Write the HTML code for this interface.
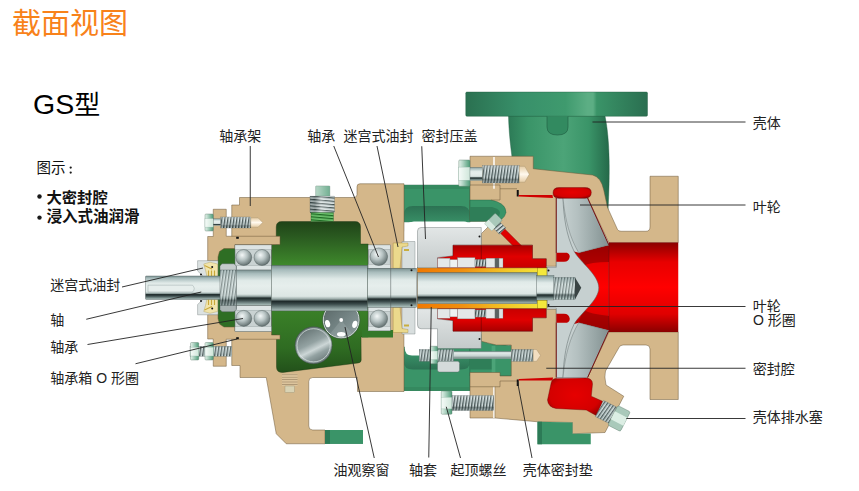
<!DOCTYPE html>
<html><head><meta charset="utf-8"><title>GS</title><style>html,body{margin:0;padding:0;background:#fff;font-family:"Liberation Sans",sans-serif;}svg{display:block}</style></head><body><svg width="859" height="491" viewBox="0 0 859 491">
<defs>
<linearGradient id="metal" x1="0" y1="0" x2="0" y2="1">
<stop offset="0" stop-color="#7A9090"/><stop offset="0.1" stop-color="#A8BCBC"/><stop offset="0.3" stop-color="#E0EAE8"/>
<stop offset="0.45" stop-color="#E6EEEC"/><stop offset="0.68" stop-color="#DCE6E4"/><stop offset="0.74" stop-color="#9AAAA8"/>
<stop offset="0.79" stop-color="#1E2A2A"/><stop offset="0.85" stop-color="#3A4A4A"/><stop offset="0.93" stop-color="#7A8E8C"/><stop offset="1" stop-color="#B0C4C0"/>
</linearGradient>
<linearGradient id="metal2" x1="0" y1="0" x2="0" y2="1">
<stop offset="0" stop-color="#8A9C9C"/><stop offset="0.2" stop-color="#E4ECEA"/><stop offset="0.6" stop-color="#C8D4D2"/>
<stop offset="0.85" stop-color="#8C9C9A"/><stop offset="1" stop-color="#B4C4C0"/>
</linearGradient>
<linearGradient id="sumpT" x1="0" y1="221" x2="0" y2="266" gradientUnits="userSpaceOnUse">
<stop offset="0" stop-color="#1F4218"/><stop offset="0.35" stop-color="#2A5A20"/><stop offset="1" stop-color="#3F8A2C"/>
</linearGradient>
<linearGradient id="sumpB" x1="0" y1="310" x2="0" y2="373" gradientUnits="userSpaceOnUse">
<stop offset="0" stop-color="#3A8028"/><stop offset="0.6" stop-color="#2F6C22"/><stop offset="1" stop-color="#22501A"/>
</linearGradient>
<linearGradient id="redV" x1="0" y1="242.5" x2="0" y2="332" gradientUnits="userSpaceOnUse">
<stop offset="0" stop-color="#8A0000"/><stop offset="0.22" stop-color="#E80000"/><stop offset="0.5" stop-color="#FF0000"/><stop offset="0.8" stop-color="#E00000"/><stop offset="1" stop-color="#8A0000"/>
</linearGradient>
<linearGradient id="redCh" x1="0" y1="0" x2="0" y2="1">
<stop offset="0" stop-color="#A80000"/><stop offset="0.5" stop-color="#E00000"/><stop offset="1" stop-color="#C80000"/>
</linearGradient>
<linearGradient id="redChB" x1="0" y1="1" x2="0" y2="0">
<stop offset="0" stop-color="#A80000"/><stop offset="0.5" stop-color="#E00000"/><stop offset="1" stop-color="#C80000"/>
</linearGradient>
<radialGradient id="redBlob" cx="0.5" cy="0.45" r="0.65">
<stop offset="0" stop-color="#E60000"/><stop offset="0.7" stop-color="#D40000"/><stop offset="1" stop-color="#8E0000"/>
</radialGradient>
<linearGradient id="flange" x1="465" y1="0" x2="648" y2="0" gradientUnits="userSpaceOnUse">
<stop offset="0" stop-color="#2A7050"/><stop offset="0.3" stop-color="#38906A"/><stop offset="0.55" stop-color="#3F9A6E"/><stop offset="0.67" stop-color="#5CAE84"/><stop offset="0.7" stop-color="#5CAE84"/><stop offset="0.72" stop-color="#3A9468"/><stop offset="1" stop-color="#2A6E50"/>
</linearGradient>
<linearGradient id="neck" x1="508" y1="0" x2="609" y2="0" gradientUnits="userSpaceOnUse">
<stop offset="0" stop-color="#2C7A56"/><stop offset="0.2" stop-color="#3A9468"/><stop offset="0.55" stop-color="#4CA478"/><stop offset="0.8" stop-color="#3A9468"/><stop offset="1" stop-color="#256A4A"/>
</linearGradient>
<linearGradient id="adT" x1="0" y1="206" x2="0" y2="222" gradientUnits="userSpaceOnUse">
<stop offset="0" stop-color="#2C7253"/><stop offset="1" stop-color="#388E66"/>
</linearGradient>
<linearGradient id="adB" x1="0" y1="355" x2="0" y2="369.5" gradientUnits="userSpaceOnUse">
<stop offset="0" stop-color="#388E66"/><stop offset="1" stop-color="#2C7253"/>
</linearGradient>
<radialGradient id="ball" cx="0.4" cy="0.35" r="0.7">
<stop offset="0" stop-color="#F4F8F8"/><stop offset="0.45" stop-color="#B8C4C4"/><stop offset="1" stop-color="#5A6868"/>
</radialGradient>
<linearGradient id="plug" x1="0" y1="0" x2="1" y2="1">
<stop offset="0" stop-color="#6A7878"/><stop offset="0.4" stop-color="#93A0A0"/><stop offset="0.6" stop-color="#C8D2D2"/><stop offset="0.75" stop-color="#8E9A9A"/><stop offset="1" stop-color="#606C6C"/>
</linearGradient>
<linearGradient id="sleeve" x1="417" y1="0" x2="547" y2="0" gradientUnits="userSpaceOnUse">
<stop offset="0" stop-color="#F07800"/><stop offset="0.35" stop-color="#F09010"/><stop offset="0.7" stop-color="#F2C828"/><stop offset="1" stop-color="#F4E83C"/>
</linearGradient>
<linearGradient id="gland" x1="0" y1="0" x2="0" y2="1">
<stop offset="0" stop-color="#E2E6E6"/><stop offset="1" stop-color="#C4CACA"/>
</linearGradient>
<linearGradient id="vaneT" x1="560" y1="0" x2="610" y2="0" gradientUnits="userSpaceOnUse">
<stop offset="0" stop-color="#C8D2D2"/><stop offset="0.35" stop-color="#B4C0C0"/><stop offset="0.7" stop-color="#98A6A6"/><stop offset="1" stop-color="#808E8E"/>
</linearGradient>
<pattern id="thr" width="3" height="40" patternUnits="userSpaceOnUse" patternTransform="skewX(-8)">
<rect width="3" height="40" fill="#D2DEDE"/><rect x="0" width="1.15" height="40" fill="#3C4A4A"/><rect x="1.15" width="0.6" height="40" fill="#869696"/>
</pattern>
<linearGradient id="hexF" x1="0" y1="0" x2="1" y2="0"><stop offset="0" stop-color="#E4F2EA"/><stop offset="0.35" stop-color="#B4D6C6"/><stop offset="1" stop-color="#4E9C78"/></linearGradient>
<linearGradient id="hexM" x1="0" y1="0" x2="1" y2="0"><stop offset="0" stop-color="#F6FBF8"/><stop offset="1" stop-color="#CFE6DA"/></linearGradient>
<pattern id="thrG" width="2" height="4" patternUnits="userSpaceOnUse">
<rect width="2" height="4" fill="#7CC07C"/><rect x="0" width="0.9" height="4" fill="#2C6A2C"/>
</pattern>
<pattern id="thrH" width="60" height="3.3" patternUnits="userSpaceOnUse" patternTransform="skewY(5)">
<rect width="60" height="3.3" fill="#D2DCDC"/><rect y="0" width="60" height="1.1" fill="#3C4A4A"/><rect y="1.1" width="60" height="0.6" fill="#869696"/>
</pattern>
<pattern id="thrHG" width="60" height="3" patternUnits="userSpaceOnUse" patternTransform="skewY(5)">
<rect width="60" height="3" fill="#6FC46F"/><rect y="0" width="60" height="1.3" fill="#1E6A24"/>
</pattern>
<linearGradient id="thrShadeH" x1="0" y1="0" x2="1" y2="0"><stop offset="0" stop-color="#1E2A2A" stop-opacity="0.25"/><stop offset="0.2" stop-color="#1E2A2A" stop-opacity="0.3"/><stop offset="0.45" stop-color="#fff" stop-opacity="0.3"/><stop offset="1" stop-color="#fff" stop-opacity="0"/></linearGradient>
<pattern id="thrT" width="4" height="2.4" patternUnits="userSpaceOnUse">
<rect width="4" height="2.4" fill="#DCC49C"/><rect y="0" width="4" height="0.8" fill="#A89270"/>
</pattern>
<linearGradient id="tip" x1="0" y1="0" x2="0" y2="1"><stop offset="0" stop-color="#E6CDA6"/><stop offset="0.5" stop-color="#FFF9EE"/><stop offset="1" stop-color="#E6CDA6"/></linearGradient>
<linearGradient id="thrShade" x1="0" y1="0" x2="0" y2="1"><stop offset="0" stop-color="#fff" stop-opacity="0.25"/><stop offset="0.55" stop-color="#fff" stop-opacity="0"/><stop offset="0.8" stop-color="#1E2A2A" stop-opacity="0.35"/><stop offset="1" stop-color="#1E2A2A" stop-opacity="0.1"/></linearGradient>
<linearGradient id="sg" x1="0" y1="0" x2="1" y2="1"><stop offset="0" stop-color="#566464"/><stop offset="0.5" stop-color="#728282"/><stop offset="1" stop-color="#93A2A2"/></linearGradient>
<linearGradient id="plug2" x1="0.2" y1="0" x2="0.7" y2="1"><stop offset="0" stop-color="#5E6C6C"/><stop offset="0.45" stop-color="#93A2A2"/><stop offset="0.62" stop-color="#CCD6D6"/><stop offset="0.75" stop-color="#93A2A2"/><stop offset="1" stop-color="#667474"/></linearGradient>
</defs>
<path d="M508.5,116 C509,135 511,150 514,172 L608,210 C610,175 610,140 605,116 Z" fill="url(#neck)" stroke="#1F5A40" stroke-width="0.4" />
<rect x="465.75" y="92" width="181.75" height="24.25" fill="url(#flange)" rx="1.2" stroke="#1F5A40" stroke-width="0.4" />
<path d="M547,116.5 L547,127 Q547,135 557.5,135 Q568,135 568,127 L568,116.5" fill="#328A60" stroke="#1F5A40" stroke-width="0.6" />
<rect x="403.75" y="185" width="66.25" height="37" fill="#3A9468" stroke="#1F5A40" stroke-width="0.4" />
<rect x="403.75" y="185" width="66.25" height="4" fill="#35895F" />
<path d="M403.75,215 Q403.75,206 413,206 L461,206 Q470,206 470,215 L470,222 L403.75,222Z" fill="url(#adT)" />
<rect x="403.75" y="347" width="66.25" height="43.8" fill="#3A9468" stroke="#1F5A40" stroke-width="0.4" />
<rect x="403.75" y="387" width="66.25" height="3.8" fill="#35895F" />
<path d="M403.75,355 L470,355 L470,362 Q470,369.5 461,369.5 L413,369.5 Q403.75,369.5 403.75,362Z" fill="url(#adB)" />
<path d="M470,344 L481,334 L487.8,343.3 L512.2,345.6 L512.2,376 L470,376Z" fill="#3A9468" stroke="#1F5A40" stroke-width="0.4" />
<rect x="491.6" y="346" width="3.8" height="29" fill="#4CA478" />
<rect x="470" y="355" width="21.6" height="14.5" fill="#2F7E58" />
<path d="M231.75,205 L239.5,205 L239.5,197.5 L354,197.5 Q357,197.5 357,194.5 L357,186.75 Q357,183.75 360,183.75 L404,183.75 L404,391.5 L357.5,391.5 L357.5,377.5 L312.75,377.5 Q308.75,377.5 308.75,381.5 L308.75,426 Q308.75,430 312.75,430 L325,430 L325,443.75 L286.25,443.75 L276.25,433.75 L266.25,377.5 L240,377.5 L240,365.5 L231.75,365.5 Z" fill="#D4B78A" stroke="#6b5636" stroke-width="0.5" />
<path d="M325,430 L361,430 Q363,430 363,432 L363,443.75 L325,443.75Z" fill="url(#flange)" />
<rect x="325" y="430" width="38" height="13.75" fill="#3A9468" />
<rect x="325" y="430" width="5" height="13.75" fill="#2C7A56" />
<path d="M404.8,232 Q404.8,221.5 414,221.5 L464,221.5 Q468.75,221.5 468.75,226 L468.75,348 L437,348 L437,355.5 L412,355.5 Q404.8,355.5 404.8,348 Z" fill="#fff" />
<path d="M276.25,227 Q276.25,221.5 281.75,221.5 L355,221.5 Q360.5,221.5 360.5,227 L360.5,244 L368.2,244 L368.2,288 L271.25,288 L271.25,244.5 L276.25,244.5Z" fill="url(#sumpT)" stroke="#16300F" stroke-width="0.4" />
<path d="M271.25,287 L368.2,287 L368.2,337 L361,337 L361.2,360 Q361.2,362.7 358,363 L283,372.4 Q276.5,373 276.5,367 L276.5,335 L271.25,335Z" fill="url(#sumpB)" stroke="#16300F" stroke-width="0.4" />
<rect x="362" y="330" width="31" height="7.5" fill="#34782A" />
<circle cx="341.2" cy="320" r="18" fill="url(#sg)" stroke="#E4EAEA" stroke-width="1"/>
<circle cx="341.2" cy="320" r="18.7" fill="none" stroke="#3A4646" stroke-width="0.5"/>
<path d="M341.2,320 L330,334 Q341,340 352.4,334Z" fill="#A8B6B6" opacity="0.3"/>
<ellipse cx="327.6" cy="323.6" rx="2.5" ry="3.7" fill="#fff" transform="rotate(-15 327.6 323.6)"/>
<ellipse cx="354.8" cy="324.4" rx="2.5" ry="3.7" fill="#fff" transform="rotate(15 354.8 324.4)"/>
<ellipse cx="341.2" cy="334.3" rx="4.2" ry="2.3" fill="#fff" transform="rotate(0 341.2 334.3)"/>
<circle cx="341.2" cy="320" r="1.9" fill="#fff"/>
<circle cx="313.6" cy="345.3" r="18.5" fill="url(#plug2)" stroke="#3C4848" stroke-width="0.5"/>
<circle cx="313.6" cy="345.3" r="16.6" fill="none" stroke="#E0E8E8" stroke-width="0.7"/>
<rect x="217" y="247" width="19" height="82" fill="#2E6E24" />
<path d="M213.25,209.25 L226.25,209.25 L226.25,236.25 L280,236.25 L280,244.5 L235,244.5 L235,248.5 L224,248.5 L219.5,251.5 L218,257 L218,261 L207.7,261 L207.7,236.5 L213.25,236.5Z" fill="#D4B78A" stroke="#6b5636" stroke-width="0.5" />
<path d="M213.25,366.25 L226.25,366.25 L226.25,339.25 L280,339.25 L280,335 L271.5,335 L271.5,331 L235,331 L235,327 L224,327 L219.5,324 L218,318.5 L218,314.5 L207.7,314.5 L207.7,339 L213.25,339Z" fill="#D4B78A" stroke="#6b5636" stroke-width="0.5" />
<path d="M197.6,260.7 L218,260.7 L218,276.5 L203.5,276.5 L197.6,271Z" fill="#DCE2E2" stroke="#707878" stroke-width="0.4" />
<path d="M203.75,264 L210,262.2 L217.5,264 L217.5,276.5 L207,276.5 L205.5,270Z" fill="#F1E4AC" stroke="#9a8030" stroke-width="0.3" />
<line x1="204.5" y1="265.5" x2="212" y2="269" stroke="#C9A83A" stroke-width="1.1"/>
<line x1="208.5" y1="270.5" x2="208.5" y2="276" stroke="#C9A83A" stroke-width="1.1"/>
<line x1="211.5" y1="270.5" x2="211.5" y2="276" stroke="#C9A83A" stroke-width="1.1"/>
<line x1="214.5" y1="270.5" x2="214.5" y2="276" stroke="#C9A83A" stroke-width="1.1"/>
<circle cx="212.2" cy="267.1" r="1" fill="#111"/>
<circle cx="201" cy="274.4" r="1" fill="#111"/>
<path d="M197.6,314.8 L218,314.8 L218,299 L203.5,299 L197.6,304.5Z" fill="#DCE2E2" stroke="#707878" stroke-width="0.4" />
<path d="M203.75,311.5 L210,313.3 L217.5,311.5 L217.5,299 L207,299 L205.5,305.5Z" fill="#F1E4AC" stroke="#9a8030" stroke-width="0.3" />
<line x1="204.5" y1="310.0" x2="212" y2="306.5" stroke="#C9A83A" stroke-width="1.1"/>
<line x1="208.5" y1="305.0" x2="208.5" y2="299.5" stroke="#C9A83A" stroke-width="1.1"/>
<line x1="211.5" y1="305.0" x2="211.5" y2="299.5" stroke="#C9A83A" stroke-width="1.1"/>
<line x1="214.5" y1="305.0" x2="214.5" y2="299.5" stroke="#C9A83A" stroke-width="1.1"/>
<circle cx="212.2" cy="308.4" r="1" fill="#111"/>
<circle cx="201" cy="301.1" r="1" fill="#111"/>
<path d="M402,241.5 L415,241.5 L415,268.5 L402,268.5Z" fill="#D8DEDE" stroke="#707878" stroke-width="0.4" />
<path d="M393.2,243 L408,243 L408,246 L402,247 L400,268.3 L393.2,268.3Z" fill="#EBD98C" stroke="#8a7020" stroke-width="0.3" />
<path d="M404,249 L409,249 L409,251 L404,251Z" fill="#C8AE40" />
<path d="M402,334 L415,334 L415,307 L402,307Z" fill="#D8DEDE" stroke="#707878" stroke-width="0.4" />
<path d="M393.2,332.5 L408,332.5 L408,329.5 L402,328.5 L400,307.2 L393.2,307.2Z" fill="#EBD98C" stroke="#8a7020" stroke-width="0.3" />
<path d="M404,326.5 L409,326.5 L409,324.5 L404,324.5Z" fill="#C8AE40" />
<rect x="235" y="245" width="36.25" height="25" fill="#C9D2D2" stroke="#5A6666" stroke-width="0.5" />
<rect x="235" y="245" width="36.25" height="4.5" fill="#DDE4E4" stroke="#7A8686" stroke-width="0.3" />
<rect x="235" y="265.5" width="36.25" height="4.5" fill="#DDE4E4" stroke="#7A8686" stroke-width="0.3" />
<circle cx="243.75" cy="257.5" r="8" fill="url(#ball)" stroke="#4A5656" stroke-width="0.4"/>
<circle cx="262" cy="257.5" r="8" fill="url(#ball)" stroke="#4A5656" stroke-width="0.4"/>
<rect x="235" y="305.5" width="36.25" height="25.75" fill="#C9D2D2" stroke="#5A6666" stroke-width="0.5" />
<rect x="235" y="305.5" width="36.25" height="4.635" fill="#DDE4E4" stroke="#7A8686" stroke-width="0.3" />
<rect x="235" y="326.615" width="36.25" height="4.635" fill="#DDE4E4" stroke="#7A8686" stroke-width="0.3" />
<circle cx="243.75" cy="318.375" r="8" fill="url(#ball)" stroke="#4A5656" stroke-width="0.4"/>
<circle cx="262" cy="318.375" r="8" fill="url(#ball)" stroke="#4A5656" stroke-width="0.4"/>
<rect x="368.2" y="245" width="22" height="23.5" fill="#C9D2D2" stroke="#5A6666" stroke-width="0.5" />
<rect x="368.2" y="245" width="22" height="4.23" fill="#DDE4E4" stroke="#7A8686" stroke-width="0.3" />
<rect x="368.2" y="264.27" width="22" height="4.23" fill="#DDE4E4" stroke="#7A8686" stroke-width="0.3" />
<circle cx="378.8" cy="256.75" r="8.8" fill="url(#ball)" stroke="#4A5656" stroke-width="0.4"/>
<rect x="368.2" y="307" width="22" height="23.7" fill="#C9D2D2" stroke="#5A6666" stroke-width="0.5" />
<rect x="368.2" y="307" width="22" height="4.266" fill="#DDE4E4" stroke="#7A8686" stroke-width="0.3" />
<rect x="368.2" y="326.434" width="22" height="4.266" fill="#DDE4E4" stroke="#7A8686" stroke-width="0.3" />
<circle cx="378.8" cy="318.85" r="8.8" fill="url(#ball)" stroke="#4A5656" stroke-width="0.4"/>
<rect x="145.5" y="276" width="75.5" height="23.5" fill="url(#metal)" rx="0.8" stroke="#4A5656" stroke-width="0.4" />
<path d="M148,285.2 L192.5,285.2 Q196,288.6 192.5,292 L148,292Z" fill="#E6EEEC" stroke="#8A9A9A" stroke-width="0.4" />
<rect x="236" y="270" width="35.5" height="35.5" fill="url(#metal)" stroke="#4A5656" stroke-width="0.4" />
<rect x="271.25" y="265.3" width="96.45" height="45.6" fill="url(#metal)" stroke="#4A5656" stroke-width="0.4" />
<rect x="367.5" y="268.3" width="49" height="38.9" fill="url(#metal)" stroke="#4A5656" stroke-width="0.4" />
<line x1="390.7" y1="268.3" x2="390.7" y2="307.2" stroke="#4A5656" stroke-width="0.5"/>
<rect x="220" y="266" width="16.25" height="43.5" fill="url(#thr)" stroke="#4A5656" stroke-width="0.4" />
<rect x="220" y="266" width="16.25" height="43.5" fill="url(#metal)" opacity="0.45"/>
<path d="M222,263.75 L234,263.75 L236.25,266 L236.25,270 L220,270 L220,266Z" fill="#C4CCCC" stroke="#4A5656" stroke-width="0.4" />
<path d="M222,311.75 L234,311.75 L236.25,309.5 L236.25,305.5 L220,305.5 L220,309.5Z" fill="#AAB4B4" stroke="#4A5656" stroke-width="0.4" />
<rect x="417.4" y="267.8" width="129.6" height="40.9" fill="url(#sleeve)" stroke="#7A5A10" stroke-width="0.4" />
<rect x="417.4" y="272.5" width="119.6" height="31.3" fill="url(#metal)" stroke="#4A5656" stroke-width="0.4" />
<rect x="537.7" y="267.8" width="9.3" height="8.4" fill="#F4E83C" stroke="#7A6A10" stroke-width="0.4" />
<rect x="537.7" y="300.3" width="9.3" height="8.4" fill="#F4E83C" stroke="#7A6A10" stroke-width="0.4" />
<rect x="315.7" y="186" width="14.1" height="10.3" fill="url(#hexF)" rx="0.6" stroke="#5A7A6A" stroke-width="0.4" />
<rect x="315.7" y="186" width="14.1" height="10.3" fill="#8FC0A8" opacity="0.55"/>
<rect x="310" y="196.1" width="24.5" height="16.7" fill="url(#thrH)" stroke="#5A6666" stroke-width="0.3" />
<rect x="310" y="196.1" width="24.5" height="16.7" fill="url(#thrShadeH)" />
<rect x="311" y="212.6" width="22.5" height="8.9" fill="url(#thrHG)" stroke="#1F5A2A" stroke-width="0.3" />
<rect x="282" y="373.75" width="15.5" height="12.25" fill="url(#thrT)" />
<rect x="285" y="386" width="9.5" height="6.5" fill="#D9D3B4" stroke="#9a9070" stroke-width="0.4" />
<path d="M470,156.25 L533.25,156.25 L533.25,168.75 L592.5,175 Q601,177 603.75,190 L607.5,207.5 L617.5,229.5 Q618.5,231.25 621,231.25 L646,231.25 Q650,231.25 650,227 L650,176.25 L678.25,176.25 L678.25,242.5 L608.9,242.5 L587.6,198 L587.6,190 L556.25,190 L556.25,266.25 L546.25,266.25 L546.25,258.75 L532.5,258.75 L532.5,245 L481.25,245 L481.25,233.75 L493.75,221.25 L470,221.25 Z" fill="#D4B78A" stroke="#6b5636" stroke-width="0.5" />
<path d="M608.9,332 L678.25,332 L678.25,399.5 L650,399.5 L650,349 Q650,345 646,345 L623,345 Q620,345 619,347.5 L605.5,371 Q604,376 606,385 L623.75,396.25 L605,432.5 L572.5,433.75 L572.5,422.5 L537.5,421.75 L495,418 L470,418 L470,372.5 L500,372.5 L500,376 L511.25,376 L511.25,345 L496.25,345 L481.25,341.25 L481.25,331.2 L532.5,331.2 L532.5,317.75 L546.25,317.75 L546.25,309.5 L556.25,309.5 L556.25,385 L587.6,385 L587.6,377.5 Z" fill="#D4B78A" stroke="#6b5636" stroke-width="0.5" />
<path d="M537.5,421.75 L572.5,422.5 L572.5,433.75 L590.75,433.5 L590.75,444.25 L537.5,444.25Z" fill="#3A9468" />
<rect x="537.5" y="421.75" width="4.5" height="22.5" fill="#2C7A56" />
<path d="M470,200 L491,200 Q506,203 506,212.5 Q504,221 493.75,221.25 L470,221.25Z" fill="#3A9468" stroke="#1F5A40" stroke-width="0.4" />
<path d="M470,207 L492,207 Q500,209 500,213 Q499,219 492,221 L470,221.25Z" fill="#2F7E58" />
<line x1="494" y1="157" x2="494" y2="188.8" stroke="#fff" stroke-width="1.5"/>
<line x1="494" y1="386.75" x2="494" y2="418" stroke="#fff" stroke-width="1.5"/>
<path d="M470,185 L500,185 L500,188.75 L517,188.75" fill="none" stroke="#6b5636" stroke-width="0.5" />
<path d="M500,188.75 L500,200 L491,200" fill="none" stroke="#6b5636" stroke-width="0.5" />
<path d="M470,386.75 L500,386.75 L500,381 L517,381" fill="none" stroke="#6b5636" stroke-width="0.5" />
<path d="M495,386.75 L495,418" fill="none" stroke="#6b5636" stroke-width="0.4" />
<rect x="516.75" y="190" width="2" height="6.5" fill="#111" />
<rect x="516.75" y="379.5" width="2" height="6.5" fill="#111" />
<path d="M518.75,195 L552.5,195 L553,198 L518.75,196.6Z" fill="#D00000" />
<path d="M518.75,380.5 L552.5,380.5 L553,377.5 L518.75,379Z" fill="#D00000" />
<rect x="608.9" y="242.5" width="69.35" height="89.5" fill="url(#redV)" />
<path d="M570,250 L608.9,245 L608.9,330.5 L570,325.5Z" fill="url(#redV)" />
<path d="M578.7,252.8 L608.9,245 L608.9,262 Q590,262 583,266Z" fill="#9A0000" opacity="0.75"/>
<path d="M578.7,322.7 L608.9,330.5 L608.9,316 Q590,314 583,309.5Z" fill="#9A0000" opacity="0.75"/>
<line x1="608.9" y1="242.5" x2="608.9" y2="332" stroke="#5A0000" stroke-width="0.5"/>
<path d="M556.3,198 L587.6,198 L608.9,245 L578.7,252.8 L574.2,251.6 L560,251.6Z" fill="#C6D0D0" />
<path d="M556.3,377.5 L587.6,377.5 L608.9,330.5 L578.7,322.7 L574.2,323.9 L560,323.9Z" fill="#C6D0D0" />
<path d="M556.3,198 L563,198 C563.5,215 566,235 574.2,251.6 C581,263 598.75,275 598.75,287.75 C598.75,300.5 581,312.5 574.2,323.9 C566,340.5 563.5,360.5 563,377.5 L556.3,377.5 L556.3,308.2 L547.3,308.2 L547.3,267.3 L556.3,267.3Z" fill="#C6D0D0" stroke="#5A6666" stroke-width="0.5" />
<rect x="536.8" y="275.5" width="17.2" height="24.5" fill="url(#metal)" stroke="#4A5656" stroke-width="0.3" />
<rect x="553.75" y="277.5" width="21.25" height="22" fill="url(#thr)" stroke="#4A5656" stroke-width="0.3" />
<rect x="553.75" y="277.5" width="21.25" height="22" fill="url(#metal)" opacity="0.4"/>
<path d="M575,277.5 L581.25,287.75 L575,299.5Z" fill="#3A4444" />
<path d="M563,198 L587.6,198 L608.9,245 L578.7,252.8 C570,238 565,220 563,198Z" fill="url(#vaneT)" stroke="#5A6666" stroke-width="0.4" />
<path d="M563,377.5 L587.6,377.5 L608.9,330.5 L578.7,322.7 C570,337.5 565,355.5 563,377.5Z" fill="url(#vaneT)" stroke="#5A6666" stroke-width="0.4" />
<path d="M587.6,198 L608.9,245" fill="none" stroke="#7A0000" stroke-width="0.9" />
<path d="M587.6,377.5 L608.9,330.5" fill="none" stroke="#7A0000" stroke-width="0.9" />
<line x1="556.3" y1="198" x2="556.3" y2="253" stroke="#7A0000" stroke-width="0.8"/>
<line x1="556.3" y1="322.5" x2="556.3" y2="377.5" stroke="#7A0000" stroke-width="0.8"/>
<path d="M556.3,252.8 L567,252.8 Q570,254 569.7,257 Q569,261.7 564,261.7 L556.3,261.7Z" fill="#C00000" />
<path d="M556.3,322.7 L567,322.7 Q570,321.5 569.7,318.5 Q569,313.8 564,313.8 L556.3,313.8Z" fill="#C00000" />
<path d="M553,193 Q553,187.6 559,187.6 L585,187.6 Q591.3,187.6 591.3,192.5 Q591.3,198.2 585,198.2 L559,198.2 Q553,198.2 553,193Z" fill="url(#redBlob)" stroke="#6A0000" stroke-width="0.4" />
<path d="M551.25,382.5 Q552,378.6 556,378.4 L586.25,378 Q592.5,378.5 592.5,384 L591.25,396.25 L602.5,401.25 L597.5,416.25 L586.25,410 L556,408.5 Q548,407 547.5,400 Z" fill="url(#redBlob)" stroke="#6A0000" stroke-width="0.4" />
<g transform="translate(497,225.5) rotate(-45)">
<rect x="-3" y="0" width="6" height="33" fill="#E00000" stroke="#6A0000" stroke-width="0.4" />
<rect x="-4.5" y="-1" width="9" height="9" fill="url(#thrH)" stroke="#5A6666" stroke-width="0.3" />
<rect x="-7.5" y="-10" width="15" height="10" fill="#A9C9BA" rx="1" stroke="#5A7A6A" stroke-width="0.4" />
<rect x="-7.5" y="-10" width="5.5" height="10" fill="#D8EAE0" />
</g>
<path d="M417.5,231 Q417.5,227.5 421,227.5 L481.25,227.5 L481.25,245 L453,245 L453,256 L437.5,257.5 L437.5,267.8 L417.5,267.8Z" fill="url(#gland)" stroke="#5A6666" stroke-width="0.4" />
<path d="M417.5,308.7 L417.5,325 Q417.5,328.75 421,328.75 L437.5,328.75 L437.5,348.5 L481.25,348.5 L481.25,341.25 L481.25,331.2 L453,331.2 L453,320.5 L437.5,319 L437.5,308.7Z" fill="url(#gland)" stroke="#5A6666" stroke-width="0.4" />
<path d="M453,245.3 L532.5,245.3 L532.5,258.75 L546.25,258.75 L546.25,267.8 L437.5,267.8 L437.5,258 L453,256Z" fill="url(#redCh)" stroke="#6A0000" stroke-width="0.4" />
<path d="M453,331.2 L532.5,331.2 L532.5,317.75 L546.25,317.75 L546.25,308.7 L437.5,308.7 L437.5,318.5 L453,320.5Z" fill="url(#redChB)" stroke="#6A0000" stroke-width="0.4" />
<line x1="481.25" y1="245.3" x2="481.25" y2="267.8" stroke="#5A0000" stroke-width="0.5"/>
<line x1="481.25" y1="308.7" x2="481.25" y2="331.2" stroke="#5A0000" stroke-width="0.5"/>
<rect x="437.5" y="258.2" width="12.5" height="9.3" fill="#E4E8E8" stroke="#6A7676" stroke-width="0.3" />
<rect x="450" y="259.6" width="7.5" height="7.9" fill="#EEF2F2" stroke="#6A7676" stroke-width="0.3" />
<rect x="457.5" y="257.6" width="17.5" height="9.9" fill="#E4E8E8" stroke="#6A7676" stroke-width="0.3" />
<rect x="475" y="259.4" width="11" height="7.2" fill="url(#thr)" stroke="#6A7676" stroke-width="0.3" />
<rect x="486" y="258.2" width="9" height="9.3" fill="#E4E8E8" stroke="#6A7676" stroke-width="0.3" />
<rect x="495" y="258.2" width="4" height="9.3" fill="#5A6262" stroke="#6A7676" stroke-width="0.3" />
<rect x="499" y="258.2" width="4" height="9.3" fill="#DCE2E2" stroke="#6A7676" stroke-width="0.3" />
<rect x="437.5" y="309" width="12.5" height="9.3" fill="#E4E8E8" stroke="#6A7676" stroke-width="0.3" />
<rect x="450" y="309" width="7.5" height="7.9" fill="#EEF2F2" stroke="#6A7676" stroke-width="0.3" />
<rect x="457.5" y="309" width="17.5" height="9.9" fill="#E4E8E8" stroke="#6A7676" stroke-width="0.3" />
<rect x="475" y="309.9" width="11" height="7.2" fill="url(#thr)" stroke="#6A7676" stroke-width="0.3" />
<rect x="486" y="309" width="9" height="9.3" fill="#E4E8E8" stroke="#6A7676" stroke-width="0.3" />
<rect x="495" y="309" width="4" height="9.3" fill="#5A6262" stroke="#6A7676" stroke-width="0.3" />
<rect x="499" y="309" width="4" height="9.3" fill="#DCE2E2" stroke="#6A7676" stroke-width="0.3" />
<circle cx="479.5" cy="236.5" r="1" fill="#111"/>
<circle cx="479.5" cy="339" r="1" fill="#111"/>
<circle cx="548.5" cy="270.5" r="1" fill="#111"/>
<circle cx="548.5" cy="305" r="1" fill="#111"/>
<circle cx="411.5" cy="270.3" r="1" fill="#111"/>
<circle cx="411.5" cy="305.2" r="1" fill="#111"/>
<rect x="205" y="214" width="8.25" height="17" fill="url(#hexF)" rx="1" stroke="#5A7A6A" stroke-width="0.4" />
<rect x="205" y="218.59" width="8.25" height="8.5" fill="url(#hexM)" stroke="#8AB0A0" stroke-width="0.3" />
<rect x="213.25" y="218.8" width="7.55" height="6.8" fill="url(#metal)" stroke="#5A6666" stroke-width="0.3" />
<rect x="220.8" y="217" width="30" height="11" fill="url(#thr)" stroke="#5A6666" stroke-width="0.3" />
<rect x="220.8" y="217" width="30" height="11" fill="url(#thrShade)" />
<path d="M250.8,217.8 L258.1,217.8 L262.6,222.5 L258.1,227.2 L250.8,227.2Z" fill="url(#tip)" stroke="#8a7a5a" stroke-width="0.3" />
<rect x="190" y="346.25" width="41.75" height="10" fill="url(#thr)" stroke="#5A6666" stroke-width="0.3" />
<rect x="190" y="346.25" width="41.75" height="10" fill="url(#metal2)" opacity="0.2"/>
<rect x="190.5" y="342.5" width="8.25" height="17.5" fill="url(#hexF)" rx="1" stroke="#5A7A6A" stroke-width="0.4" />
<rect x="190.5" y="347.2" width="8.25" height="8.8" fill="url(#hexM)" stroke="#8AB0A0" stroke-width="0.3" />
<rect x="205" y="342.5" width="8.25" height="17.5" fill="url(#hexF)" rx="1" stroke="#5A7A6A" stroke-width="0.4" />
<rect x="205" y="347.2" width="8.25" height="8.8" fill="url(#hexM)" stroke="#8AB0A0" stroke-width="0.3" />
<rect x="458.75" y="160" width="11.25" height="26.25" fill="url(#hexF)" rx="1" stroke="#5A7A6A" stroke-width="0.4" />
<rect x="458.75" y="167.088" width="11.25" height="13.125" fill="url(#hexM)" stroke="#8AB0A0" stroke-width="0.3" />
<rect x="470" y="167.3" width="12.5" height="13.3" fill="url(#metal)" stroke="#5A6666" stroke-width="0.3" />
<rect x="482.5" y="165.5" width="36.75" height="17.5" fill="url(#thr)" stroke="#5A6666" stroke-width="0.3" />
<rect x="482.5" y="165.5" width="36.75" height="17.5" fill="url(#thrShade)" />
<path d="M519.25,166.3 L524.75,166.3 L529.25,174.25 L524.75,182.2 L519.25,182.2Z" fill="url(#tip)" stroke="#8a7a5a" stroke-width="0.3" />
<rect x="441.25" y="391" width="10.75" height="23.25" fill="url(#hexF)" rx="1" stroke="#5A7A6A" stroke-width="0.4" />
<rect x="441.25" y="397.277" width="10.75" height="11.625" fill="url(#hexM)" stroke="#8AB0A0" stroke-width="0.3" />
<rect x="452" y="395.5" width="41.75" height="15" fill="url(#thr)" stroke="#5A6666" stroke-width="0.3" />
<rect x="452" y="395.5" width="41.75" height="15" fill="url(#thrShade)" />
<rect x="453.75" y="351.25" width="57.5" height="7.5" fill="url(#metal2)" stroke="#5A6666" stroke-width="0.3" />
<rect x="419.25" y="349.5" width="34.5" height="11.75" fill="url(#thr)" stroke="#5A6666" stroke-width="0.3" />
<rect x="419.25" y="349.5" width="34.5" height="11.75" fill="url(#metal2)" opacity="0.2"/>
<rect x="430" y="346.25" width="7.5" height="17.5" fill="url(#hexF)" rx="1" stroke="#5A7A6A" stroke-width="0.4" />
<rect x="430" y="351" width="7.5" height="8.5" fill="url(#hexM)" stroke="#8AB0A0" stroke-width="0.3" />
<rect x="511.25" y="349.5" width="22" height="11.75" fill="url(#thr)" stroke="#5A6666" stroke-width="0.3" />
<rect x="511.25" y="349.5" width="22" height="11.75" fill="url(#metal2)" opacity="0.2"/>
<path d="M533.25,349.5 L536.5,349.5 L540.5,355.4 L536.5,361.25 L533.25,361.25Z" fill="#F2DEC0" stroke="#8a7a5a" stroke-width="0.3" />
<rect x="437.5" y="361.25" width="22" height="10.75" fill="#D4DADA" rx="2" stroke="#5A6666" stroke-width="0.4" />
<g transform="translate(599.5,408.5) rotate(27)">
<rect x="0" y="-9" width="15" height="18" fill="url(#thr)" stroke="#5A6666" stroke-width="0.3" />
<rect x="0" y="-9" width="15" height="18" fill="url(#metal2)" opacity="0.2"/>
<rect x="15" y="-11" width="14" height="22" fill="#A9C9BA" rx="1.5" stroke="#5A7A6A" stroke-width="0.4" />
<rect x="15" y="-4.5" width="14" height="9" fill="#DCEEE4" />
</g>
<rect x="236.2" y="236.8" width="2.6" height="2" fill="#111"/>
<rect x="236.2" y="337.2" width="2.6" height="2" fill="#111"/>
<line x1="250.25" y1="146" x2="250.25" y2="206" stroke="#222" stroke-width="0.9"/>
<line x1="333.75" y1="146" x2="378.5" y2="257" stroke="#222" stroke-width="0.9"/>
<line x1="377" y1="146" x2="398" y2="247" stroke="#222" stroke-width="0.9"/>
<line x1="421.75" y1="146.25" x2="425.5" y2="239" stroke="#222" stroke-width="0.9"/>
<line x1="592.5" y1="122" x2="745.5" y2="122" stroke="#222" stroke-width="0.9"/>
<line x1="580" y1="205" x2="745.5" y2="205" stroke="#222" stroke-width="0.9"/>
<line x1="547.5" y1="306.5" x2="745.5" y2="306.5" stroke="#222" stroke-width="0.9"/>
<line x1="546.25" y1="368.25" x2="745.5" y2="368.25" stroke="#222" stroke-width="0.9"/>
<line x1="626.25" y1="418.5" x2="745.5" y2="418.5" stroke="#222" stroke-width="0.9"/>
<line x1="122" y1="287" x2="203" y2="268" stroke="#222" stroke-width="0.9"/>
<line x1="86.25" y1="319.25" x2="201.25" y2="292" stroke="#222" stroke-width="0.9"/>
<line x1="87.5" y1="344.5" x2="243" y2="318.5" stroke="#222" stroke-width="0.9"/>
<line x1="135.5" y1="363.75" x2="237" y2="339" stroke="#222" stroke-width="0.9"/>
<line x1="345" y1="327" x2="374.25" y2="458" stroke="#222" stroke-width="0.9"/>
<line x1="431.25" y1="307" x2="428.75" y2="457.5" stroke="#222" stroke-width="0.9"/>
<line x1="446.25" y1="406.75" x2="460.5" y2="458" stroke="#222" stroke-width="0.9"/>
<line x1="517.5" y1="381.75" x2="532" y2="458" stroke="#222" stroke-width="0.9"/>
<g font-family="'Liberation Sans','Noto Sans CJK SC',sans-serif">
<text x="12" y="34" font-size="29" fill="#F8821A">截面视图</text>
<text x="33" y="113.5" font-size="28.5" fill="#000">GS<tspan font-size="26">型</tspan></text>
<text x="36.5" y="172.8" font-size="14.5" fill="#111">图示</text>
<text x="46.5" y="203" font-size="15.3" font-weight="bold" fill="#111">大密封腔</text>
<text x="46.5" y="222.3" font-size="15.5" font-weight="bold" fill="#111">浸入式油润滑</text>
<g font-size="14" fill="#222">
<text x="219.3" y="141.3">轴承架</text>
<text x="307.3" y="141.3">轴承</text>
<text x="343.5" y="141.3">迷宫式油封</text>
<text x="421.5" y="141">密封压盖</text>
<text x="752.8" y="127.6">壳体</text>
<text x="752.8" y="211.6">叶轮</text>
<text x="752.8" y="310.6">叶轮</text>
<text x="753" y="325.3">O 形圈</text>
<text x="752.8" y="374.2">密封腔</text>
<text x="752.8" y="422.2">壳体排水塞</text>
<text x="50.3" y="290">迷宫式油封</text>
<text x="50.3" y="325">轴</text>
<text x="50.3" y="351.8">轴承</text>
<text x="50.3" y="382.8">轴承箱 O 形圈</text>
<text x="333.5" y="474.8">油观察窗</text>
<text x="409" y="474.8">轴套</text>
<text x="450.5" y="474.8">起顶螺丝</text>
<text x="522.8" y="474.8">壳体密封垫</text>
</g>
</g>
<circle cx="70.7" cy="167.6" r="1.15" fill="#1a1a1a"/><circle cx="70.7" cy="172.6" r="1.15" fill="#1a1a1a"/>
<circle cx="39.5" cy="196.5" r="2.2" fill="#1a1a1a"/><circle cx="39.5" cy="217.6" r="2.2" fill="#1a1a1a"/>
</svg></body></html>
